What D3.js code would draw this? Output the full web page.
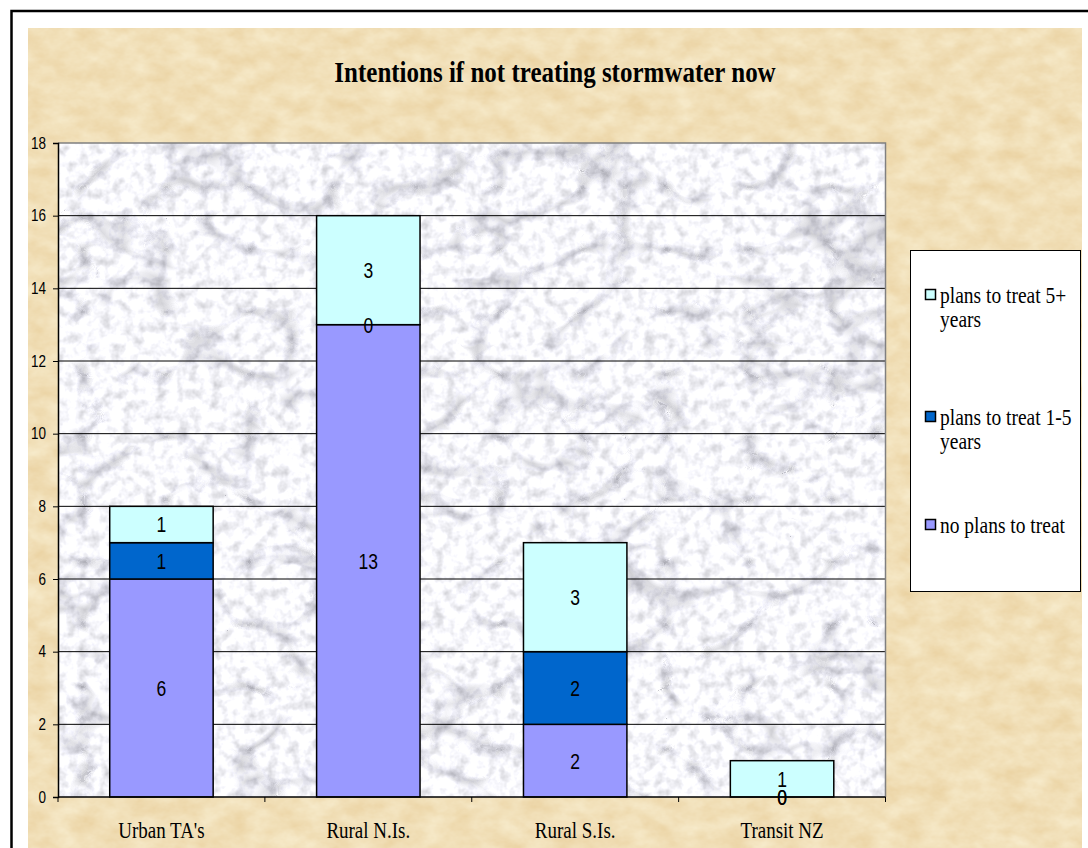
<!DOCTYPE html>
<html>
<head>
<meta charset="utf-8">
<script src="https://cdn.jsdelivr.net/npm/d3@7"></script>
<style>
  html, body { margin: 0; padding: 0; background: #ffffff; }
  svg { display: block; }
</style>
</head>
<body>
<svg id="chart" width="1088" height="848"></svg>
<script>
// ---- data ----
const categories = ["Urban TA's", "Rural N.Is.", "Rural S.Is.", "Transit NZ"];
const noPlans    = [6, 13, 2, 0];
const plans1to5  = [1, 0, 2, 0];
const plans5plus = [1, 3, 3, 1];
const seriesKeys   = ["noPlans", "plans1to5", "plans5plus"];
const seriesColors = ["#9999FF", "#0066CC", "#CCFFFF"];
const legendLines  = [["plans to treat 5+", "years"], ["plans to treat 1-5", "years"], ["no plans to treat"]];
const legendColors = ["#CCFFFF", "#0066CC", "#9999FF"];
const yTicks = [0, 2, 4, 6, 8, 10, 12, 14, 16, 18];
const title = "Intentions if not treating stormwater now";

const table = categories.map((c, i) => ({
  category: c, noPlans: noPlans[i], plans1to5: plans1to5[i], plans5plus: plans5plus[i]
}));

// ---- layout ----
const svg = d3.select("#chart");
const plot = { left: 58, right: 885.5, top: 143, bottom: 797 };
const area = { left: 28, top: 28, right: 1082, bottom: 860 };
const sansFont = "'Liberation Sans', Arial, sans-serif";
const serifFont = "'Liberation Serif', 'Times New Roman', serif";
const stretch = 1.2; // text is drawn slightly taller than wide

const defs = svg.append("defs");

// parchment texture for the chart area
const parch = defs.append("filter").attr("id", "parchment")
  .attr("filterUnits", "userSpaceOnUse")
  .attr("x", area.left).attr("y", area.top)
  .attr("width", area.right - area.left).attr("height", area.bottom - area.top)
  .attr("color-interpolation-filters", "sRGB");
parch.append("feTurbulence").attr("type", "fractalNoise")
  .attr("baseFrequency", "0.04 0.06").attr("numOctaves", 4).attr("seed", 7)
  .attr("result", "grain");
parch.append("feColorMatrix").attr("in", "grain").attr("type", "matrix")
  .attr("values", "0.06 0 0 0 0.915  0.12 0 0 0 0.815  0.2 0 0 0 0.62  0 0 0 0 1")
  .attr("result", "tint");
parch.append("feComposite").attr("in", "tint").attr("in2", "SourceGraphic").attr("operator", "in");

// marble texture for the plot area
const marble = defs.append("filter").attr("id", "marble")
  .attr("filterUnits", "userSpaceOnUse")
  .attr("x", plot.left).attr("y", plot.top)
  .attr("width", plot.right - plot.left).attr("height", plot.bottom - plot.top)
  .attr("color-interpolation-filters", "sRGB");
marble.append("feTurbulence").attr("type", "turbulence")
  .attr("baseFrequency", "0.012 0.016").attr("numOctaves", 3).attr("seed", 11)
  .attr("result", "veins");
marble.append("feColorMatrix").attr("in", "veins").attr("type", "matrix")
  .attr("values", "0.9 0 0 0 0.79  0.9 0 0 0 0.79  0.88 0 0 0 0.81  0 0 0 0 1")
  .attr("result", "veinGray");
marble.append("feTurbulence").attr("type", "fractalNoise")
  .attr("baseFrequency", "0.09").attr("numOctaves", 3).attr("seed", 4)
  .attr("result", "speck");
marble.append("feColorMatrix").attr("in", "speck").attr("type", "matrix")
  .attr("values", "0.4 0 0 0 0.78  0.4 0 0 0 0.78  0.4 0 0 0 0.8  0 0 0 0 1")
  .attr("result", "speckGray");
marble.append("feBlend").attr("in", "veinGray").attr("in2", "speckGray").attr("mode", "multiply")
  .attr("result", "stone");
marble.append("feComposite").attr("in", "stone").attr("in2", "SourceGraphic").attr("operator", "in");

// outer frame
svg.append("rect")
  .attr("x", 11.5).attr("y", 11).attr("width", 1200).attr("height", 1000)
  .attr("fill", "#ffffff").attr("stroke", "#000").attr("stroke-width", 2.5);

// chart area
svg.append("rect")
  .attr("x", area.left).attr("y", area.top)
  .attr("width", area.right - area.left).attr("height", area.bottom - area.top)
  .attr("fill", "#F2DFB4").attr("filter", "url(#parchment)");

// plot area background
svg.append("rect")
  .attr("x", plot.left).attr("y", plot.top)
  .attr("width", plot.right - plot.left).attr("height", plot.bottom - plot.top)
  .attr("fill", "#e8e8ea").attr("filter", "url(#marble)");

// ---- scales ----
const x = d3.scaleBand().domain(categories)
  .range([plot.left, plot.right]).paddingInner(0.5).paddingOuter(0.25);
const y = d3.scaleLinear().domain([0, 18]).range([plot.bottom, plot.top]);

// gridlines
svg.append("g").selectAll("line")
  .data(yTicks.filter(t => t > 0 && t < 18))
  .join("line")
  .attr("x1", plot.left).attr("x2", plot.right)
  .attr("y1", d => y(d)).attr("y2", d => y(d))
  .attr("stroke", "#000").attr("stroke-width", 1);

// plot border (top and right)
svg.append("path")
  .attr("d", `M${plot.left},${plot.top}H${plot.right}V${plot.bottom}`)
  .attr("fill", "none").attr("stroke", "#808080").attr("stroke-width", 1.5);

// ---- stacked bars ----
const stack = d3.stack().keys(seriesKeys)(table);
const layers = svg.append("g").selectAll("g")
  .data(stack).join("g")
  .attr("fill", (d, i) => seriesColors[i]);

layers.selectAll("rect")
  .data(d => d.filter(s => s[1] - s[0] > 0))
  .join("rect")
  .attr("x", d => x(d.data.category))
  .attr("width", x.bandwidth())
  .attr("y", d => y(d[1]))
  .attr("height", d => y(d[0]) - y(d[1]))
  .attr("stroke", "#000").attr("stroke-width", 1.5);

// value labels on each segment (zero-height segments label their boundary)
const labelG = svg.append("g");
stack.forEach(layer => {
  layer.forEach(seg => {
    const cx = x(seg.data.category) + x.bandwidth() / 2;
    const cy = y((seg[0] + seg[1]) / 2);
    labelG.append("text")
      .attr("transform", `translate(${cx},${cy}) scale(1,1.25)`)
      .attr("text-anchor", "middle").attr("dy", "0.36em")
      .attr("font-family", sansFont).attr("font-size", 17.5)
      .attr("fill", "#000")
      .text(seg[1] - seg[0]);
  });
});

// ---- axes ----
const yAxis = svg.append("g")
  .attr("transform", `translate(${plot.left},0)`)
  .call(d3.axisLeft(y).tickValues(yTicks).tickSize(5).tickPadding(7));
yAxis.select(".domain").attr("stroke", "#000").attr("stroke-width", 1.5);
yAxis.selectAll(".tick line").attr("stroke", "#000");
yAxis.selectAll(".tick text")
  .attr("font-family", sansFont).attr("font-size", 13.5).attr("fill", "#000")
  .attr("transform", `scale(1,${stretch})`);

svg.append("line")
  .attr("x1", plot.left).attr("x2", plot.right)
  .attr("y1", plot.bottom).attr("y2", plot.bottom)
  .attr("stroke", "#000").attr("stroke-width", 1.5);

// boundary ticks between categories
const halfGap = (x.step() - x.bandwidth()) / 2;
const boundaries = categories.map(c => x(c) - halfGap).concat([plot.right]);
svg.append("g").selectAll("line")
  .data(boundaries).join("line")
  .attr("x1", d => d).attr("x2", d => d)
  .attr("y1", plot.bottom).attr("y2", plot.bottom + 5)
  .attr("stroke", "#000").attr("stroke-width", 1);

// category labels
svg.append("g").selectAll("text")
  .data(categories).join("text")
  .attr("transform", d => `translate(${x(d) + x.bandwidth() / 2},838) scale(1,${stretch})`)
  .attr("text-anchor", "middle")
  .attr("font-family", serifFont).attr("font-size", 19).attr("fill", "#000")
  .text(d => d);

// ---- title ----
svg.append("text")
  .attr("transform", `translate(555,82) scale(1,${stretch})`)
  .attr("text-anchor", "middle")
  .attr("font-family", serifFont).attr("font-weight", "bold")
  .attr("font-size", 25).attr("fill", "#000")
  .text(title);

// ---- legend ----
const legend = svg.append("g");
legend.append("rect")
  .attr("x", 910.5).attr("y", 250.5).attr("width", 170).attr("height", 341)
  .attr("fill", "#ffffff").attr("stroke", "#000").attr("stroke-width", 1);

const entryTop = [303, 425, 533];
legendLines.forEach((lines, i) => {
  legend.append("rect")
    .attr("x", 925.5).attr("y", entryTop[i] - 13.5).attr("width", 10).attr("height", 10)
    .attr("fill", legendColors[i]).attr("stroke", "#000").attr("stroke-width", 1.5);
  lines.forEach((ln, j) => {
    legend.append("text")
      .attr("transform", `translate(940,${entryTop[i] + j * 24}) scale(1,${stretch})`)
      .attr("font-family", serifFont).attr("font-size", 19.5).attr("fill", "#000")
      .text(ln);
  });
});
</script>
</body>
</html>
